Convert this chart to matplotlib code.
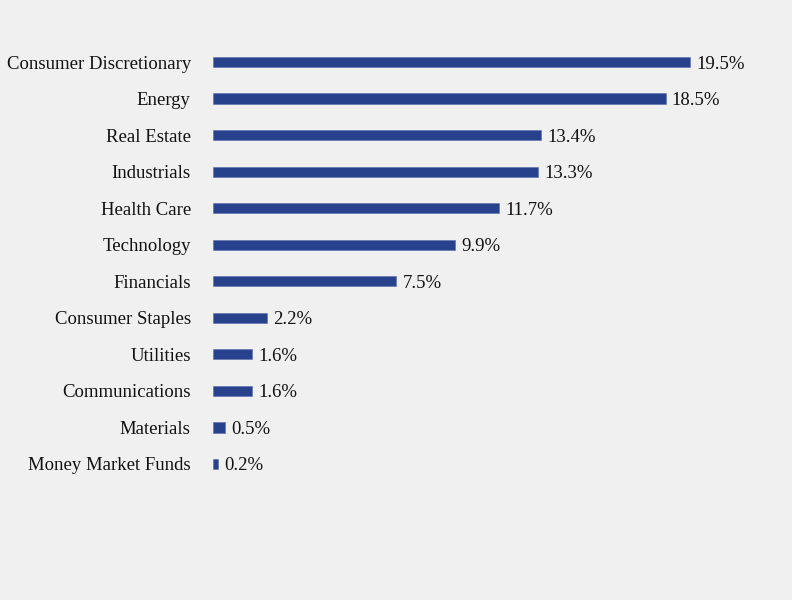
import matplotlib
matplotlib.use('Agg')
import matplotlib.pyplot as plt

# sectores y pesos (%)
sectores = ['Consumer Discretionary', 'Energy', 'Real Estate', 'Industrials',
            'Health Care', 'Technology', 'Financials', 'Consumer Staples',
            'Utilities', 'Communications', 'Materials', 'Money Market Funds']
pesos = [19.5, 18.5, 13.4, 13.3, 11.7, 9.9, 7.5, 2.2, 1.6, 1.6, 0.5, 0.2]

fondo = '#F0F0F0'
azul = '#27418C'
tam = 13.5

plt.rcParams['font.family'] = ['Liberation Serif', 'DejaVu Serif']

fig = plt.figure(figsize=(7.92, 6.0), dpi=100, facecolor=fondo)
ax = fig.add_axes([213/792, 1 - 482.25/600, 579/792, 438.5/600])
ax.set_facecolor(fondo)

ypos = list(range(len(sectores)))
ax.barh(ypos, pesos, height=0.28, color=azul, edgecolor='#5a6fae', linewidth=0.4)

#etiquetas de valor al final de cada barra
for y, v in zip(ypos, pesos):
    ax.text(v + 0.26, y, f'{v:.1f}%', va='center_baseline', ha='left', fontsize=tam, color='#111111')

ax.set_xlim(0, 579/24.46)
ax.set_ylim(len(sectores) - 0.5, -0.5)
ax.set_yticks(ypos)
ax.set_yticklabels(sectores, fontsize=tam, color='#111111', va='center_baseline')
ax.tick_params(axis='y', length=0, pad=16)
ax.set_xticks([])
for s in ax.spines.values():
    s.set_visible(False)

fig.savefig('out.png', dpi=100, facecolor=fondo)
